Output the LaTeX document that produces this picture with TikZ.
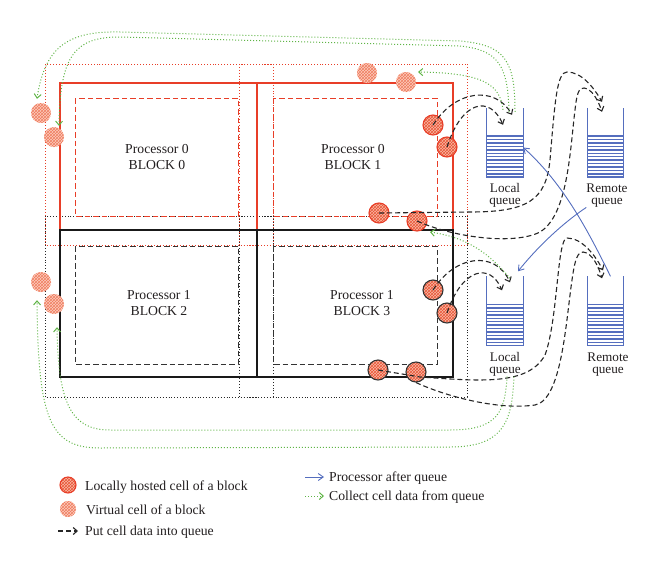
\documentclass[tikz,border=0pt]{standalone}
\usepackage{fontspec}
\setmainfont{Liberation Serif}
\usetikzlibrary{arrows.meta,patterns,calc}
\definecolor{bred}{RGB}{232,62,40}
\definecolor{qblue}{RGB}{85,110,190}
\definecolor{cgreen}{RGB}{95,180,70}
\definecolor{hatchfill}{RGB}{250,185,165}
\definecolor{hatchline}{RGB}{232,85,55}
\definecolor{vfill}{RGB}{252,205,190}
\definecolor{vline}{RGB}{240,125,95}
\definecolor{txt}{RGB}{35,31,32}
\begin{document}
\begin{tikzpicture}[x=1pt,y=-1pt,
  font=\fontsize{13.7}{16.5}\selectfont, text=txt,
  regred/.style={draw=bred, dotted, line width=0.9pt},
  regblk/.style={draw=black!85, dotted, line width=0.9pt},
  innred/.style={draw=bred, dash pattern=on 5.5pt off 3pt, line width=1pt},
  innblk/.style={draw=black!80, dash pattern=on 5.5pt off 3pt, line width=1pt},
  blkred/.style={draw=bred, line width=1.6pt},
  blkblk/.style={draw=black!90, line width=1.8pt},
  cellloc/.style={circle, minimum size=20pt, inner sep=0, preaction={fill=hatchfill}, pattern=crosshatch, pattern color=hatchline, line width=1.1pt},
  cellred/.style={cellloc, draw=bred},
  cellblk/.style={cellloc, draw=black!80},
  cellvir/.style={circle, minimum size=20pt, inner sep=0, preaction={fill=vfill}, pattern=crosshatch, pattern color=vline},
  queue/.style={minimum width=36pt, minimum height=69pt, inner sep=0},
  put/.style={draw=black!85, dash pattern=on 5pt off 3pt, line width=1.1pt, -{Straight Barb[length=4pt,width=7pt]}},
  collect/.style={draw=cgreen, dotted, line width=1pt, -{Straight Barb[length=4pt,width=7pt]}},
  procq/.style={draw=qblue, line width=0.9pt, -{Straight Barb[length=5pt,width=7pt]}},
  lbl/.style={align=center, inner sep=0},
  qlbl/.style={align=center, inner sep=0, font=\fontsize{13.2}{12}\selectfont},
  leg/.style={anchor=base west, inner sep=0}
]
\useasboundingbox (0,0) rectangle (660,570);

% virtual regions (dotted)
\draw[regred] (45,64) rectangle (273,245);
\draw[regred] (239,64) rectangle (467,245);
\draw[regblk] (45,216) rectangle (273,397);
\draw[regblk] (239,216) rectangle (467,397);

% inner dashed
\draw[innred] (75,98) rectangle (238,216);
\draw[innred] (273,98) rectangle (437,216);
\draw[innblk] (75,246) rectangle (238,364);
\draw[innblk] (273,246) rectangle (437,364);

% blocks
\draw[blkred] (60,83) rectangle (257,230);
\draw[blkred] (257,83) rectangle (453,230);
\draw[blkblk] (60,230) rectangle (257,377);
\draw[blkblk] (257,230) rectangle (453,377);

\node[lbl] (p0) at (157,157) {Processor 0\\BLOCK 0};
\node[lbl] (p1) at (353,157) {Processor 0\\BLOCK 1};
\node[lbl] (p2) at (159,303) {Processor 1\\BLOCK 2};
\node[lbl] (p3) at (362,303) {Processor 1\\BLOCK 3};

% queues
\node[queue] (lq1) at (505,142.5) {};
\node[queue] (rq1) at (605.5,142.5) {};
\node[queue] (lq2) at (505,311) {};
\node[queue] (rq2) at (605.5,311) {};
\foreach \q in {lq1,rq1,lq2,rq2} {
  \draw[qblue, line width=1pt] (\q.north west) -- (\q.south west) -- (\q.south east) -- (\q.north east);
  \foreach \k in {0,...,12}
    \draw[qblue, line width=1.45pt] ([yshift=\k*3.42pt]\q.south west) -- ([yshift=\k*3.42pt]\q.south east);
}
\node[qlbl] (ll1) at (505,195.5) {Local\\queue};
\node[qlbl] (rl1) at (607,195.5) {Remote\\queue};
\node[qlbl] (ll2) at (505,364.5) {Local\\queue};
\node[qlbl] (rl2) at (608,364.5) {Remote\\queue};

% cells
\node[cellvir] (v1) at (41,113) {};
\node[cellvir] (v2) at (54,137) {};
\node[cellvir] (v3) at (367,73) {};
\node[cellvir] (v4) at (406,82) {};
\node[cellvir] (v5) at (41,282) {};
\node[cellvir] (v6) at (54,304) {};
\node[cellred] (c1) at (433,125) {};
\node[cellred] (c2) at (447,147) {};
\node[cellred] (c3) at (379,213) {};
\node[cellred] (c4) at (417,221) {};
\node[cellblk] (c5) at (433,290) {};
\node[cellblk] (c6) at (447,313) {};
\node[cellblk] (c7) at (378,370) {};
\node[cellblk] (c8) at (416,372) {};

% put cell data into queue
\draw[put] (c1.center) .. controls (455,90) and (495,85) .. ([shift={(7,7)}]lq1.north);
\draw[put] (c2.center) .. controls (462,100) and (490,95) .. ([shift={(-2,17)}]lq1.north);
\draw[put] (c3.center) -- (470,212) .. controls (528,212) and (546,200) .. (550,160) .. controls (555,100) and (557,72) .. (567,72) .. controls (582,72) and (594,88) .. ([shift={(-3.5,-6)}]rq1.north);
\draw[put] (c4.center) .. controls (455,238) and (515,245) .. (540,232) .. controls (568,215) and (570,150) .. (575,110) .. controls (577,92) and (579,88) .. (584,88) .. controls (592,89) and (598,100) .. ([shift={(-3.5,4)}]rq1.north);
\draw[put] (c5.center) .. controls (455,255) and (495,250) .. ([shift={(5,6)}]lq2.north);
\draw[put] (c6.center) .. controls (462,268) and (490,262) .. ([shift={(-3,14)}]lq2.north);
\draw[put] (c7.center) -- (420,377) .. controls (480,381) and (528,386) .. (545,355) .. controls (558,320) and (557,238) .. (567,238) .. controls (582,238) and (595,255) .. ([shift={(-2.5,-6)}]rq2.north);
\draw[put] (c8.south) .. controls (450,398) and (500,410) .. (535,405) .. controls (562,400) and (566,320) .. (572,280) .. controls (575,258) and (578,252) .. (583,252) .. controls (592,253) and (598,265) .. ([shift={(-3.5,2)}]rq2.north);

% collect cell data from queue
\draw[collect] ([shift={(10,4)}]lq1.north) .. controls (515,60) and (505,45) .. (460,41) -- (120,32) .. controls (70,31) and (45,45) .. ([shift={(-4,-4)}]v1.north);
\draw[collect] ([shift={(4,4)}]lq1.north) .. controls (508,65) and (498,50) .. (460,46) -- (120,37) .. controls (75,37) and (60,55) .. ([shift={(5,-1)}]v2.north);
\draw[collect] ([shift={(-2,2)}]lq1.north) .. controls (500,85) and (485,73) .. ([shift={(12,-10)}]v4.center);
\draw[collect] ([shift={(5,2)}]lq2.north) .. controls (490,255) and (470,238) .. ([shift={(13,11)}]c4.center);
\draw[collect] ([xshift=9pt]ll2.south) .. controls (512,420) and (505,447) .. (450,447) -- (100,448) .. controls (50,448) and (38,420) .. ([shift={(-4,8)}]v5.south);
\draw[collect] ([xshift=2pt]ll2.south) .. controls (505,412) and (498,430) .. (450,430) -- (110,430) .. controls (72,430) and (58,405) .. ([shift={(3,13)}]v6.south);

% processor after queue
\draw[procq] (rl1.south west) .. controls (560,225) and (535,250) .. ([shift={(13,-5)}]lq2.north);
\draw[procq] ([xshift=5pt]rq2.north) .. controls (590,235) and (565,185) .. ([shift={(0,5)}]lq1.east);

% legend
\node[cellred, minimum size=16pt] (lg1) at (68,485) {};
\node[cellvir, minimum size=16pt] (lg2) at (68,509) {};
\coordinate (lg3a) at (58,531);
\coordinate (lg3b) at (78,531);
\draw[put] (lg3a) -- (lg3b);
\node[leg] (lt1) at (85,490) {Locally hosted cell of a block};
\node[leg] (lt2) at (86,514) {Virtual cell of a block};
\node[leg] (lt3) at (85,535) {Put cell data into queue};
\coordinate (lg4a) at (305,477);
\coordinate (lg4b) at (324,477);
\draw[procq] (lg4a) -- (lg4b);
\coordinate (lg5a) at (305,496);
\coordinate (lg5b) at (324,496);
\draw[collect] (lg5a) -- (lg5b);
\node[leg] (lt4) at (329,481) {Processor after queue};
\node[leg] (lt5) at (329,500) {Collect cell data from queue};
\end{tikzpicture}
\end{document}
